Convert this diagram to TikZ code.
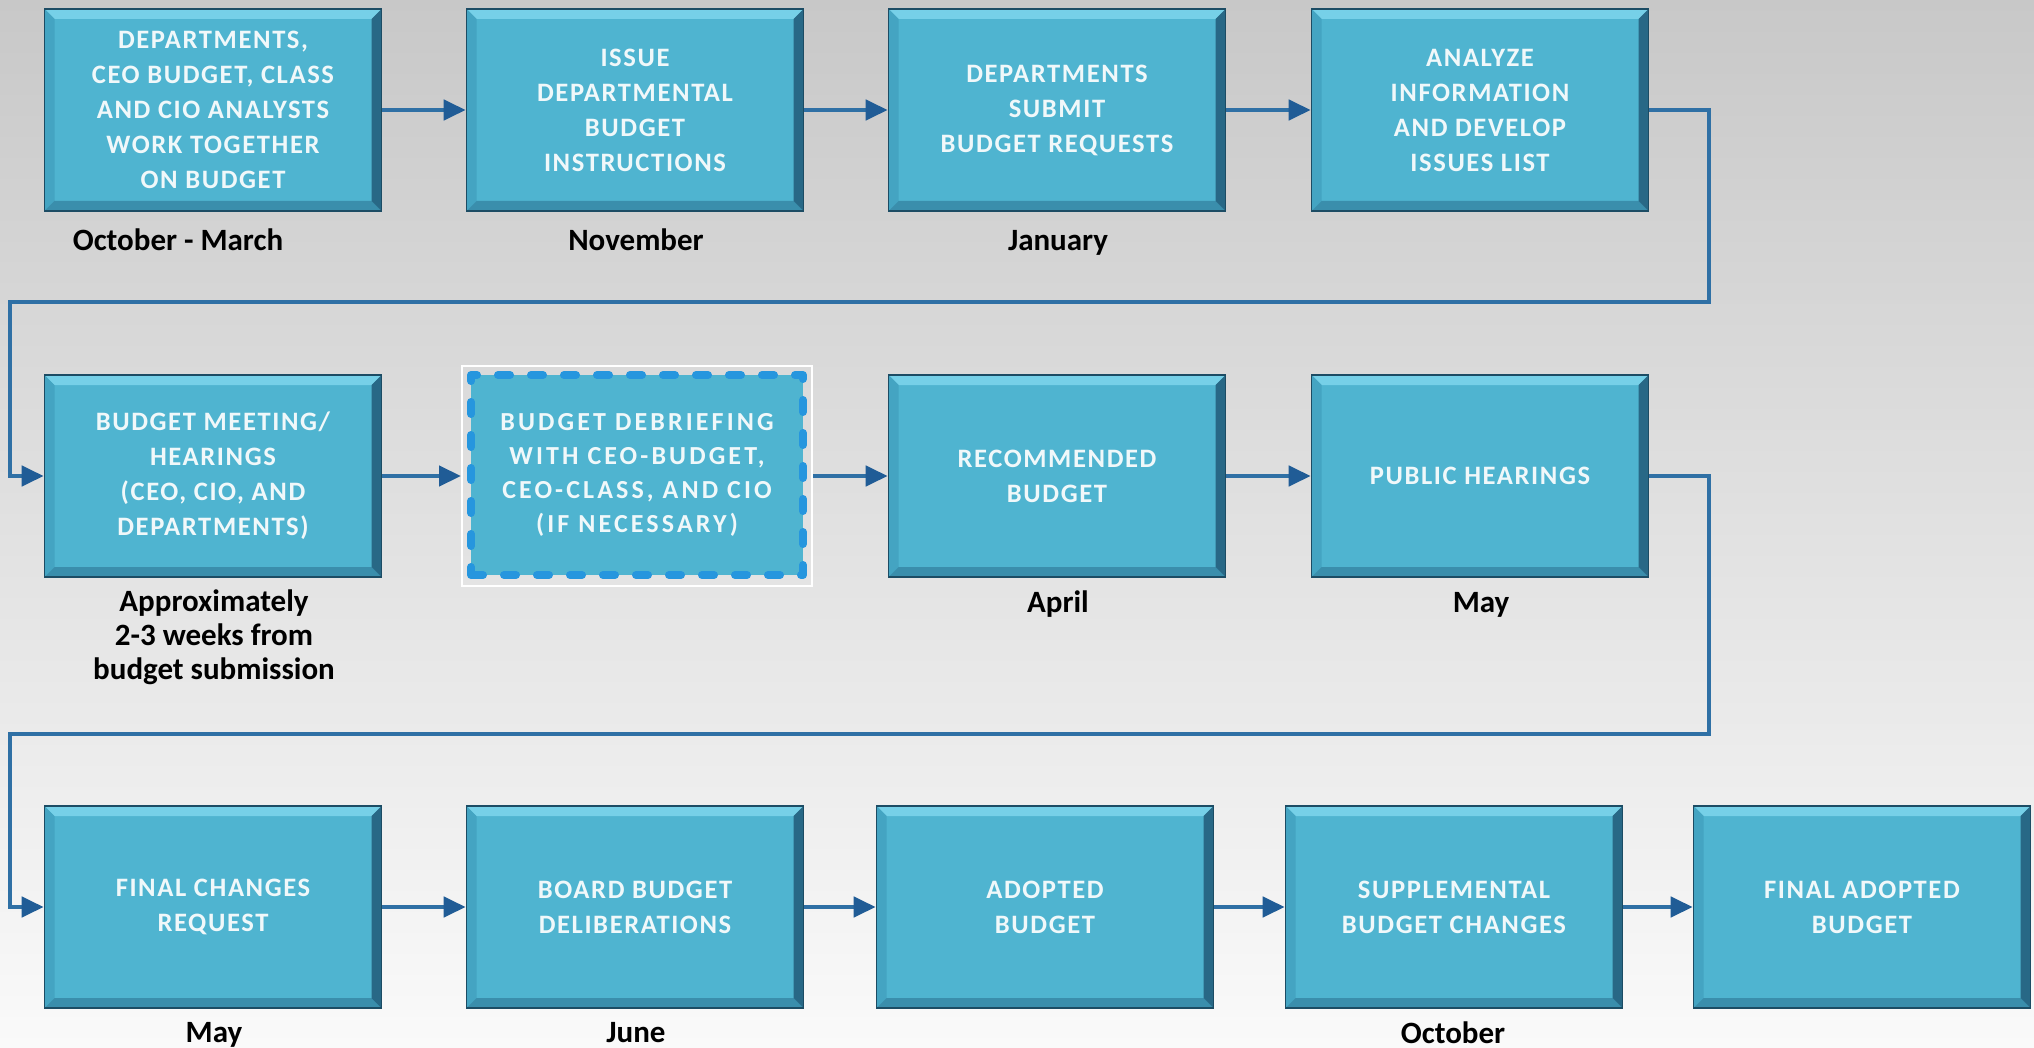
\documentclass[tikz,border=0pt]{standalone}
\usepackage{fontspec}
\setmainfont{Carlito}
\newfontfamily\stepfont[LetterSpace=6]{Carlito}
\newfontfamily\debrieffont[LetterSpace=12]{Carlito}
\usepackage{tikz}
\usetikzlibrary{arrows.meta}

\definecolor{bgtop}{RGB}{200,200,200}
\definecolor{bgbot}{RGB}{250,250,250}
\definecolor{boxblue}{RGB}{79,180,208}
\definecolor{boxtop}{RGB}{118,208,232}
\definecolor{boxleft}{RGB}{68,164,194}
\definecolor{boxbot}{RGB}{58,142,172}
\definecolor{boxright}{RGB}{40,104,134}
\definecolor{boxedge}{RGB}{28,76,100}
\definecolor{linkblue}{RGB}{47,112,165}
\definecolor{tipblue}{RGB}{32,92,150}
\definecolor{dashblue}{RGB}{38,150,222}
\definecolor{steptext}{RGB}{240,248,250}

\newcommand\stepbevel{%
  \fill[boxtop] (path picture bounding box.north west) -- (path picture bounding box.north east)
    -- ([shift={(-5pt,-5pt)}]path picture bounding box.north east) -- ([shift={(5pt,-5pt)}]path picture bounding box.north west) -- cycle;
  \fill[boxleft] (path picture bounding box.north west) -- (path picture bounding box.south west)
    -- ([shift={(5pt,5pt)}]path picture bounding box.south west) -- ([shift={(5pt,-5pt)}]path picture bounding box.north west) -- cycle;
  \fill[boxbot] (path picture bounding box.south west) -- (path picture bounding box.south east)
    -- ([shift={(-5pt,5pt)}]path picture bounding box.south east) -- ([shift={(5pt,5pt)}]path picture bounding box.south west) -- cycle;
  \fill[boxright] (path picture bounding box.north east) -- (path picture bounding box.south east)
    -- ([shift={(-5pt,5pt)}]path picture bounding box.south east) -- ([shift={(-5pt,-5pt)}]path picture bounding box.north east) -- cycle;
}

\tikzset{
  stepbox/.style={rectangle, minimum width=168.5pt, minimum height=101pt, inner sep=0pt,
    fill=boxblue, draw=boxedge, line width=0.8pt, path picture={\stepbevel},
    align=center, text=steptext, font=\stepfont\bfseries\fontsize{13.3}{17.5}\selectfont},
  debriefbox/.style={rectangle, minimum width=166pt, minimum height=100pt, inner sep=0pt,
    fill=boxblue, draw=dashblue, line width=4pt, dash pattern=on 6pt off 10.5pt,
    line cap=round, line join=round,
    align=center, text=steptext, font=\debrieffont\bfseries\fontsize{13}{17}\selectfont},
  debriefframe/.style={rectangle, minimum width=175pt, minimum height=110pt, draw=white, line width=1pt},
  month/.style={inner sep=0pt, align=center, font=\bfseries\fontsize{15.5}{17}\selectfont},
  link/.style={draw=linkblue, line width=2.2pt, -{Triangle[length=11pt,width=10pt,color=tipblue]}}
}

\begin{document}
\begin{tikzpicture}[x=0.5pt, y=-0.5pt]
    \useasboundingbox (0,0) rectangle (2034,1048);
    \shade[top color=bgtop, bottom color=bgbot] (0,0) rectangle (2034,1048);
    % Row 1
    \node (s1) at (213,110) [stepbox] {DEPARTMENTS,\\CEO BUDGET, CLASS\\AND CIO ANALYSTS\\WORK TOGETHER\\ON BUDGET};
    \node (s2) at (635,110) [stepbox] {ISSUE\\DEPARTMENTAL\\BUDGET\\INSTRUCTIONS};
    \node (s3) at (1057,110) [stepbox] {DEPARTMENTS\\SUBMIT\\BUDGET REQUESTS};
    \node (s4) at (1480,110) [stepbox] {ANALYZE\\INFORMATION\\AND DEVELOP\\ISSUES LIST};
    \node (m1) at (178,250) [month,anchor=base] {October - March};
    \node (m2) at (636,250) [month,anchor=base] {November};
    \node (m3) at (1058,250) [month,anchor=base] {January};
    % Row 2
    \node (s5) at (213,476) [stepbox] {BUDGET MEETING/\\HEARINGS\\(CEO, CIO, AND\\DEPARTMENTS)};
    \node (s6f) at (637,476) [debriefframe] {};
    \node (s6) at (637,475) [debriefbox] {BUDGET DEBRIEFING\\WITH CEO-BUDGET,\\CEO-CLASS, AND CIO\\(IF NECESSARY)};
    \node (s7) at (1057,476) [stepbox] {RECOMMENDED\\BUDGET};
    \node (s8) at (1480,476) [stepbox] {PUBLIC HEARINGS};
    \node (m5) at (214,589) [month,anchor=north] {Approximately\\2-3 weeks from\\budget submission};
    \node (m7) at (1058,612) [month,anchor=base] {April};
    \node (m8) at (1481,612) [month,anchor=base] {May};
    % Row 3
    \node (s9) at (213,907) [stepbox] {FINAL CHANGES\\REQUEST};
    \node (s10) at (635,907) [stepbox] {BOARD BUDGET\\DELIBERATIONS};
    \node (s11) at (1045,907) [stepbox] {ADOPTED\\BUDGET};
    \node (s12) at (1454,907) [stepbox] {SUPPLEMENTAL\\BUDGET CHANGES};
    \node (s13) at (1862,907) [stepbox] {FINAL ADOPTED\\BUDGET};
    \node (m9) at (214,1042) [month,anchor=base] {May};
    \node (m10) at (636,1042) [month,anchor=base] {June};
    \node (m12) at (1453,1043) [month,anchor=base] {October};
    % Arrows
    \draw[link] (s1.east) -- (s2.west);
    \draw[link] (s2.east) -- (s3.west);
    \draw[link] (s3.east) -- (s4.west);
    \draw[link] (s5.east) -- (s6f.west);
    \draw[link] (s6f.east) -- (s7.west);
    \draw[link] (s7.east) -- (s8.west);
    \draw[link] (s9.east) -- (s10.west);
    \draw[link] (s10.east) -- (s11.west);
    \draw[link] (s11.east) -- (s12.west);
    \draw[link] (s12.east) -- (s13.west);
    % Turns between rows
    \coordinate (t1) at (1709,302);
    \coordinate (t2) at (10,302);
    \coordinate (t3) at (1709,734);
    \coordinate (t4) at (10,734);
    \draw[link] (s4.east) -| (t1) -- (t2) |- (s5.west);
    \draw[link] (s8.east) -| (t3) -- (t4) |- (s9.west);
\end{tikzpicture}
\end{document}
